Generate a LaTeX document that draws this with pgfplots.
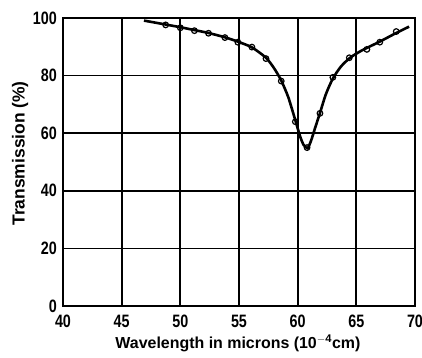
\documentclass[border=0pt]{standalone}
\usepackage{fontspec}
\setmainfont{Liberation Sans}
\newfontfamily\tickfont[FakeStretch=0.8]{Liberation Sans}
\usepackage{pgfplots}
\pgfplotsset{compat=1.18}
\begin{document}
\begin{tikzpicture}
\path[use as bounding box] (-63bp,-52bp) rectangle (359bp,306bp);
\begin{axis}[
  at={(0,0)}, anchor=south west,
  scale only axis, width=352bp, height=288bp,
  xmin=40, xmax=70, ymin=0, ymax=100,
  xtick={40,45,...,70}, ytick={0,20,...,100},
  grid=major,
  grid style={black, line width=1.8bp},
  axis line style={line width=2bp},
  major tick length=0pt,
  tick label style={font=\tickfont\bfseries\fontsize{18}{20}\selectfont},
  xticklabel style={anchor=north, inner sep=0pt, yshift=-9bp},
  yticklabel style={anchor=east, inner sep=0pt, xshift=-6bp},
  /pgf/number format/assume math mode=true,
  xlabel={\bfseries\fontsize{16}{18}\selectfont Wavelength in microns (10$^{\mathbf{-4}}$cm)},
  ylabel={\bfseries\fontsize{17.5}{19}\selectfont Transmission (\%)},
  xlabel style={at={(0.497,0)}, anchor=center, yshift=-37bp},
  ylabel style={at={(0,0.53)}, anchor=center, yshift=43bp},
]
\addplot[black, line width=2.6bp, smooth, tension=0.4] coordinates {
 (46.9,99.1) (48.8,97.7) (50.0,96.8) (51.2,95.8) (52.4,94.8) (53.8,93.3)
 (54.9,91.8) (56.1,89.8) (57.3,86.2) (58.0,82.5) (58.6,78.3) (59.2,72.5)
 (59.8,64.5) (60.2,59.0) (60.5,56.0) (60.85,54.8) (61.15,57.5) (61.5,62.0)
 (61.9,67.0) (62.4,73.5) (63.0,79.0) (63.7,83.2) (64.5,86.3) (65.5,88.8)
 (67.0,91.8) (68.4,94.8) (69.5,97.0)
};
\addplot[only marks, mark=o, mark size=2.8bp, mark options={fill=white, line width=1.2bp}, black] coordinates {
 (48.75,97.6) (50.0,96.6) (51.2,95.6) (52.4,94.7) (53.8,93.2) (54.9,91.6)
 (56.1,89.9) (57.3,85.9) (58.6,78.1) (59.8,64.0) (60.8,55.0) (61.9,66.9)
 (63.0,79.4) (64.4,86.2) (65.9,89.1) (67.0,91.6) (68.4,95.3)
};
\end{axis}
\end{tikzpicture}
\end{document}
